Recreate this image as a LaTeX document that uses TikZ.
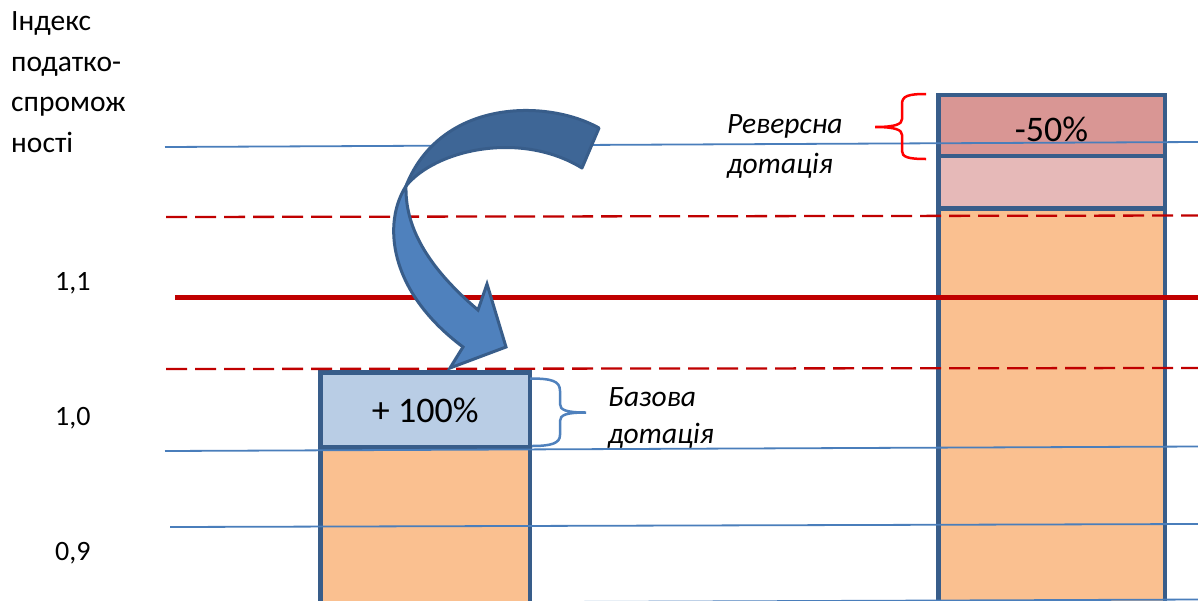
\documentclass[tikz,border=0pt]{standalone}
\usepackage{fontspec}
\setmainfont{Carlito}
\usetikzlibrary{positioning}
\definecolor{barline}{HTML}{385D8A}
\definecolor{peach}{HTML}{FAC090}
\definecolor{paleblue}{HTML}{B9CDE5}
\definecolor{rose}{HTML}{D99694}
\definecolor{palerose}{HTML}{E6B9B8}
\definecolor{gridblue}{HTML}{4A7EBB}
\definecolor{darkred}{HTML}{C00000}
\definecolor{arrowback}{HTML}{3E6696}
\definecolor{arrowfront}{HTML}{4F81BD}
\begin{document}
\begin{tikzpicture}[x=1pt, y=-1pt, font=\fontsize{29.5}{34}\selectfont,
	block/.style = { rectangle, draw=barline, line width=4.5pt, inner sep=0pt },
	gridline/.style = { draw=gridblue, line width=1.8pt },
	dashline/.style = { draw=darkred, line width=2.3pt, dash pattern=on 21pt off 8pt },
	axistext/.style = { anchor=base west, inner sep=0pt },
	remark/.style = { axistext, font=\fontsize{29.5}{34}\selectfont\itshape },
	pct/.style = { inner sep=0pt, font=\fontsize{36}{40}\selectfont } ]

  \useasboundingbox (0,0) rectangle (1198,600);
  \clip (0,0) rectangle (1198,600);
  \fill [white] (0,0) rectangle (1198,600);

  \node [name=lowleft, block, fill=peach,
	minimum width=209.5pt, minimum height=172.5pt] at (425.25,533.75) {};
  \node [name=gain, block, fill=paleblue,
	minimum width=209.5pt, minimum height=75pt] at (425.25,410) {\fontsize{36}{40}\selectfont + 100\%};
  \node [name=lowright, block, fill=peach,
	minimum width=226.7pt, minimum height=411.7pt] at (1051.65,414.15) {};
  \node [name=midright, block, fill=palerose,
	minimum width=226.7pt, minimum height=52.5pt] at (1051.65,182.05) {};
  \node [name=cut, block, fill=rose,
	minimum width=226.7pt, minimum height=60.8pt] at (1051.65,125.4) {};

  \draw [gridline] (165,147) -- (1198,142);
  \draw [gridline] (165,451) -- (1198,446.5);
  \draw [gridline] (170,527) -- (1198,524);
  \draw [gridline] (170,603.5) -- (1198,599.5);
  \draw [dashline] (166,217) -- (1198,215.5);
  \draw [dashline] (166,369) -- (1198,368);
  \draw [draw=darkred, line width=5pt] (175,297.5) -- (1198,297.5);

  \filldraw [draw=barline, fill=arrowback, line width=3pt, line join=round]
	(599,128) .. controls (545,98) and (440,100) .. (406,186)
	.. controls (435,150) and (520,130) .. (582,168) -- cycle;
  \filldraw [draw=barline, fill=arrowfront, line width=3pt]
	(406,186) .. controls (383,222) and (387,290) .. (463,347)
	-- (450,368) -- (506,347) -- (487,284) -- (478,310)
	.. controls (425,265) and (405,225) .. (406,186) -- cycle;

  \draw [draw=arrowfront, line width=2.5pt]
	(530,378.5) .. controls (552,378.5) and (560,381) .. (560,391) -- (560,404)
	.. controls (560,410) and (566,412.5) .. (586,412.5)
	.. controls (566,412.5) and (560,415) .. (560,421) -- (560,435)
	.. controls (560,443) and (552,446) .. (532,446);
  \draw [draw=red, line width=2.5pt]
	(926,94) .. controls (908,94) and (902,96) .. (902,104) -- (902,119)
	.. controls (902,124) and (896,127) .. (875,127)
	.. controls (896,127) and (902,130) .. (902,135) -- (902,151)
	.. controls (902,157) and (908,159) .. (926,159);

  \node [name=cutlabel, pct, anchor=base] at (1051.5,141.7) {-50\%};

  \node [name=index1, axistext] at (11,30) {Індекс};
  \node [name=index2, axistext] at (11,71) {податко-};
  \node [name=index3, axistext] at (11,111.5) {спромож};
  \node [name=index4, axistext] at (11,152) {ності};
  \node [name=tick11, axistext, font=\fontsize{28}{34}\selectfont] at (55,290) {1,1};
  \node [name=tick10, axistext, font=\fontsize{28}{34}\selectfont] at (55,425) {1,0};
  \node [name=tick09, axistext, font=\fontsize{28}{34}\selectfont] at (55,560) {0,9};

  \node [name=basic1, remark] at (608,406.5) {Базова};
  \node [name=basic2, remark] at (608,443) {дотація};
  \node [name=reverse1, remark] at (727,133.5) {Реверсна};
  \node [name=reverse2, remark] at (727,173.5) {дотація};
\end{tikzpicture}
\end{document}
